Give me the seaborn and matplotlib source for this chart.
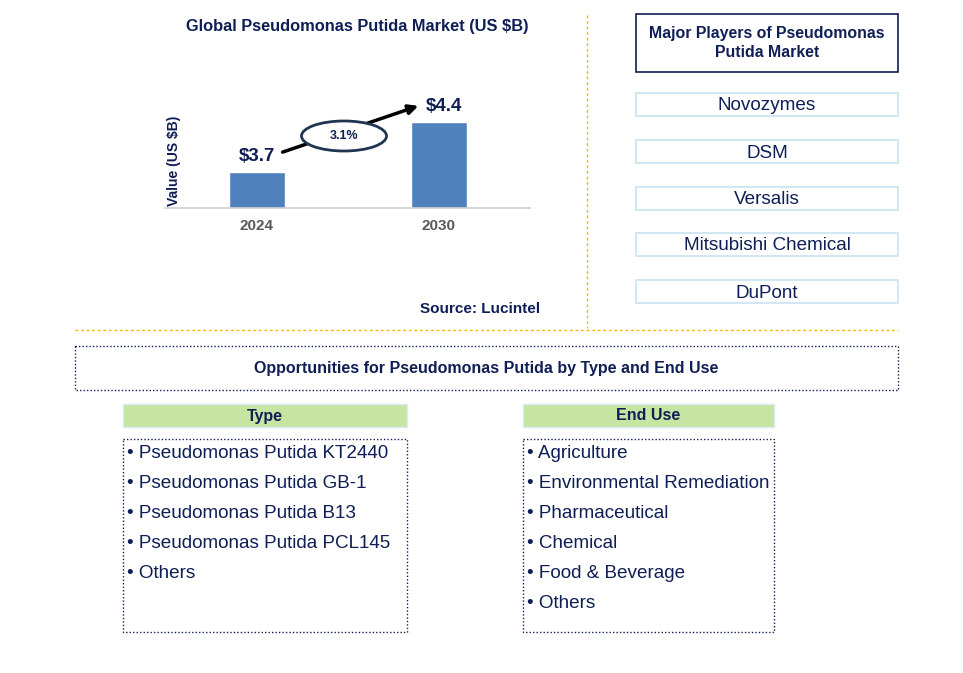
import matplotlib
matplotlib.use("Agg")
import matplotlib.pyplot as plt
from matplotlib.patches import Rectangle, Ellipse
import seaborn as sns
import pandas as pd

# chart data
years = ["2024", "2030"]
values = [3.7, 4.4]
cagr = "3.1%"
players = ["Novozymes", "DSM", "Versalis", "Mitsubishi Chemical", "DuPont"]
types = ["Pseudomonas Putida KT2440", "Pseudomonas Putida GB-1",
         "Pseudomonas Putida B13", "Pseudomonas Putida PCL145", "Others"]
end_uses = ["Agriculture", "Environmental Remediation", "Pharmaceutical",
            "Chemical", "Food & Beverage", "Others"]

sns.set_theme(style="white")
plt.rcParams['font.family'] = ['Liberation Sans', 'DejaVu Sans']

navy = "#0f1f55"
bar_col = "#4f81bd"
orange = "#f5b800"

fig = plt.figure(figsize=(9.63, 6.73), dpi=100)

# overlay in pixel coords for the layout
lay = fig.add_axes([0, 0, 1, 1])
lay.set_xlim(0, 963)
lay.set_ylim(673, 0)
lay.axis("off")

# bar chart
W, H = 963, 673
ax = fig.add_axes([165 / W, 1 - 208 / H, (530 - 165) / W, (208 - 60) / H])
df = pd.DataFrame({"year": years, "value": values})
sns.barplot(data=df, x="year", y="value", color=bar_col, width=0.31,
            saturation=1, ax=ax)
ax.set_ylim(3.196, 5.27)
ax.set_xlim(-0.505, 1.5)
ax.set_yticks([])
ax.set_xlabel("")
ax.set_ylabel("Value (US $B)", color=navy, fontsize=10, fontweight="bold")
ax.yaxis.set_label_coords(0.045, 0.32)
for s in ["top", "right", "left"]:
    ax.spines[s].set_visible(False)
ax.spines["bottom"].set_color("#d0d0d0")
ax.patch.set_alpha(0)
ax.tick_params(axis="x", length=0, pad=8)
for t in ax.get_xticklabels():
    t.set_fontweight("bold")
    t.set_color("#595959")
    t.set_fontsize(11)
for i, v in enumerate(values):
    ax.text(i + (0.03 if i else 0), v + 0.1, f"${v}", ha="center",
            va="bottom", fontsize=13.5, fontweight="bold", color=navy)

# cagr arrow + ellipse
lay.annotate("", xy=(421, 105), xytext=(280, 153),
             arrowprops=dict(arrowstyle="-|>", color="black", lw=2.5,
                             mutation_scale=14), zorder=2)
lay.add_patch(Ellipse((344, 136), 85, 30, facecolor="white",
                      edgecolor="#1f3550", lw=2, zorder=3))
lay.text(344, 136, cagr, ha="center", va="center", fontsize=9,
         fontweight="bold", color=navy, zorder=4)

lay.text(357, 27, "Global Pseudomonas Putida Market (US $B)", ha="center",
         va="center", fontsize=11.8, fontweight="bold", color=navy)
lay.text(480, 309, "Source: Lucintel", ha="center", va="center",
         fontsize=11, fontweight="bold", color=navy)

# separators
lay.plot([587, 587], [15, 328], color=orange, lw=1, ls=(0, (2, 2)))
lay.plot([75, 898], [330, 330], color=orange, lw=1, ls=(0, (2, 2)))

# players
lay.add_patch(Rectangle((636, 14), 262, 58, facecolor="white",
                        edgecolor=navy, lw=1.2))
lay.text(767, 43, "Major Players of Pseudomonas\nPutida Market", ha="center",
         va="center", fontsize=11.4, fontweight="bold", color=navy,
         linespacing=1.3)
player_y = [105, 152, 199, 245, 292]
for name, y in zip(players, player_y):
    lay.add_patch(Rectangle((636, y - 12), 262, 23, facecolor="white",
                            edgecolor="#c9e3f2", lw=1.2))
    lay.text(767, y + 1, name, ha="center", va="center", fontsize=13.6,
             color=navy)

# opportunities
dotted = (0, (1, 1.5))
lay.add_patch(Rectangle((75, 346), 823, 44, fill=False, edgecolor=navy,
                        lw=1, ls=dotted))
lay.text(486, 368, "Opportunities for Pseudomonas Putida by Type and End Use",
         ha="center", va="center", fontsize=11.5, fontweight="bold",
         color=navy)

for x0, x1, head, items in [(123, 407, "Type", types),
                            (523, 774, "End Use", end_uses)]:
    lay.add_patch(Rectangle((x0, 404), x1 - x0, 23, facecolor="#c6e5a3",
                            edgecolor="#d6ecf5", lw=1))
    lay.text((x0 + x1) / 2, 416, head, ha="center", va="center",
             fontsize=11.5, fontweight="bold", color=navy)
    lay.add_patch(Rectangle((x0, 439), x1 - x0, 193, fill=False,
                            edgecolor=navy, lw=1, ls=dotted))
    for k, it in enumerate(items):
        lay.text(x0 + 4, 453 + 30 * k, "\u2022 " + it, ha="left",
                 va="center", fontsize=13.6, color=navy)

fig.savefig("out.png", dpi=100)
